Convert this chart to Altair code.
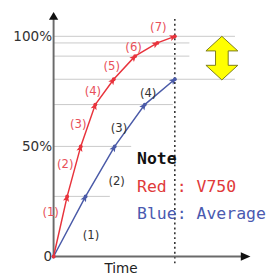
import math
import altair as alt
import pandas as pd

# ---- data ----
red_t = [0, 1.12, 2.24, 3.44, 4.96, 6.72, 8.56, 10.0]
red_p = [0, 27.3, 50, 69, 80.5, 91, 97, 100]
blue_t = [0, 2.64, 5.04, 7.52, 10.0]
blue_p = [0, 27.3, 50, 69, 80.5]
red_labels = ["(1)", "(2)", "(3)", "(4)", "(5)", "(6)", "(7)"]
blue_labels = ["(1)", "(2)", "(3)", "(4)"]
grid_p = [100, 97, 91, 80.5, 69, 50, 27.3]
y_ticks = [0, 50, 100]
note_lines = ["Note", "Red : V750", "Blue: Average"]

# ---- layout / style ----
KX, KY = 12.5, 2.27          # px per time unit, px per percent
W, H = 198, 250
xs = alt.Scale(domain=[0, W / KX], nice=False, zero=False)
ys = alt.Scale(domain=[0, H / KY], nice=False, zero=False)
grid_end = [14.96, 11.2, 11.2, 14.96, 9.84, 6.4, 4.64]
red_nudge = [(-10, -15), (-9, -8), (-10, -1), (-12, -1), (-13, -2), (-13, -3), (-8, -13)]
blue_nudge = [(22, 9), (17, 10), (-11, 3), (-12, 1)]
RED, RED_LBL, BLUE = "#e8333c", "#e8505a", "#4a5aa8"

xaxis = alt.Axis(title="Time", domain=False, ticks=False, labels=False, grid=False,
                 titleX=69, titleY=17, titleBaseline="alphabetic", titleAlign="center",
                 titleFontSize=14, titleFont="DejaVu Sans", titleFontWeight="normal",
                 titleColor="#222")
yaxis = alt.Axis(values=y_ticks, domain=False, ticks=False, grid=False, title=None,
                 labelExpr="datum.value == 0 ? '0' : datum.value + '%'",
                 labelPadding=2, labelFontSize=14, labelFont="DejaVu Sans",
                 labelColor="#333")


def X(f):
    return alt.X(f, type="quantitative", scale=xs, axis=xaxis)


def Y(f):
    return alt.Y(f, type="quantitative", scale=ys, axis=yaxis)


def series(ts, ps):
    return pd.DataFrame({"t": ts, "p": ps})


def markers(ts, ps, back=2.0):
    rows = []
    for i in range(1, len(ts)):
        dt, dp = ts[i] - ts[i - 1], ps[i] - ps[i - 1]
        dx, dy = dt * KX, dp * KY
        ln = math.hypot(dx, dy)
        ang = math.degrees(math.atan2(dx, dy)) % 360
        rows.append({"t": ts[i] - back * dx / ln / KX,
                     "p": ps[i] - back * dy / ln / KY, "a": ang})
    return pd.DataFrame(rows)


def labels(ts, ps, texts, nudges):
    rows = []
    for i, txt in enumerate(texts):
        tm = (ts[i] + ts[i + 1]) / 2 + nudges[i][0] / KX
        pm = (ps[i] + ps[i + 1]) / 2 - nudges[i][1] / KY
        rows.append({"t": tm, "p": pm, "s": txt})
    return pd.DataFrame(rows)


grid_df = pd.DataFrame({"t": [0] * len(grid_p), "t2": grid_end, "p": grid_p})
grid = alt.Chart(grid_df).mark_rule(color="#c8c8c8", strokeWidth=1).encode(
    x=X("t"), x2="t2", y=Y("p"))

axes_df = pd.DataFrame({"t": [0, 0], "t2": [0, 15.52], "p": [0, 0], "p2": [107.9, 0]})
axes = alt.Chart(axes_df).mark_rule(color="#6a6a6a", strokeWidth=2).encode(
    x=X("t"), x2="t2", y=Y("p"), y2="p2")

dot_df = pd.DataFrame({"t": [10, 10], "p": [107.9, -3.5]})
dotted = alt.Chart(dot_df).mark_line(color="#222", strokeWidth=1.5, strokeDash=[2, 3]).encode(
    x=X("t"), y=Y("p"))

up_arrow = alt.Chart(pd.DataFrame({"t": [0], "p": [109.25]})).mark_point(
    shape="M0,-1 L1.2,1 L-1.2,1 Z", size=64, filled=True, color="#111", opacity=1).encode(
    x=X("t"), y=Y("p"))
right_arrow = alt.Chart(pd.DataFrame({"t": [15.84], "p": [0]})).mark_point(
    shape="M1,0 L-1,0.9 L-1,-0.9 Z", size=100, filled=True, color="#111", opacity=1).encode(
    x=X("t"), y=Y("p"))

tri = "M0,-1 L0.8,0.8 L0,0.4 L-0.8,0.8 Z"


def line_layers(ts, ps, col):
    df = series(ts, ps)
    ln = alt.Chart(df).mark_line(color=col, strokeWidth=1.5).encode(
        x=X("t"), y=Y("p"), order="t:Q")
    mk = alt.Chart(markers(ts, ps)).mark_point(
        shape=tri, size=64, filled=True, color=col, opacity=1).encode(
        x=X("t"), y=Y("p"), angle=alt.Angle("a:Q", scale=None))
    dt = alt.Chart(df).mark_point(filled=True, size=16, color=col, opacity=1).encode(
        x=X("t"), y=Y("p"))
    return [ln, mk, dt]


blue_layers = line_layers(blue_t, blue_p, BLUE)
red_layers = line_layers(red_t, red_p, RED)

red_txt = alt.Chart(labels(red_t, red_p, red_labels, red_nudge)).mark_text(
    font="DejaVu Sans", fontSize=12, color=RED_LBL).encode(x=X("t"), y=Y("p"), text="s:N")
blue_txt = alt.Chart(labels(blue_t, blue_p, blue_labels, blue_nudge)).mark_text(
    font="DejaVu Sans", fontSize=12, color="#333").encode(x=X("t"), y=Y("p"), text="s:N")

note_df = pd.DataFrame({"t": [6.88] * 3, "p": [41.85, 29.5, 17.2], "s": note_lines,
                        "c": ["#111", "#e03a3a", "#4a5ab0"]})
note_bold = alt.Chart(note_df.iloc[:1]).mark_text(
    font="DejaVu Sans Mono", fontSize=17, fontWeight="bold", align="left",
    baseline="alphabetic", color="#111").encode(x=X("t"), y=Y("p"), text="s:N")
note_rest = alt.Chart(note_df.iloc[1:]).mark_text(
    font="DejaVu Sans Mono", fontSize=17, align="left", baseline="alphabetic").encode(
    x=X("t"), y=Y("p"), text="s:N", color=alt.Color("c:N", scale=None))

dbl = ("M0,-1 L0.73,-0.33 L0.29,-0.33 L0.29,0.33 L0.73,0.33 L0,1 "
       "L-0.73,0.33 L-0.29,0.33 L-0.29,-0.33 L-0.73,-0.33 Z")
yellow = alt.Chart(pd.DataFrame({"t": [13.88], "p": [90.1]})).mark_point(
    shape=dbl, size=2025, filled=True, fill="#ffff00", stroke="#7a7a1a",
    strokeWidth=1, opacity=1).encode(x=X("t"), y=Y("p"))

chart = alt.layer(
    grid, dotted, axes, up_arrow, right_arrow, *blue_layers, *red_layers,
    red_txt, blue_txt, note_bold, note_rest, yellow
).properties(
    width=W, height=H,
    autosize=alt.AutoSizeParams(type="none"),
    padding={"left": 47, "top": 2, "right": 21, "bottom": 19},
    background="white",
).configure_view(stroke=None)

chart.save("out.html", embed_options={"renderer": "svg", "actions": False})
